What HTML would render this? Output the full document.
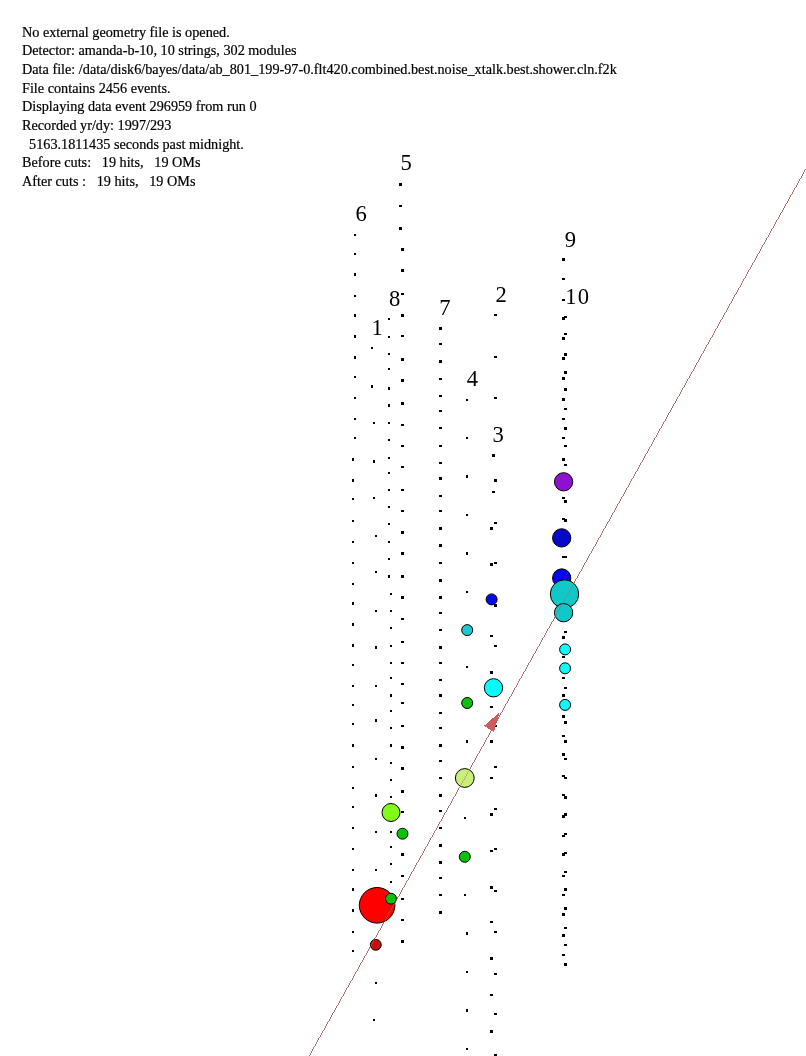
<!DOCTYPE html><html><head><meta charset="utf-8"><title>Event display</title><style>
html,body{margin:0;padding:0;background:#fff;}body{width:806px;height:1056px;overflow:hidden;position:relative;}
svg{position:absolute;left:0;top:0;display:block}
.txt{position:absolute;left:22.4px;top:23.6px;font-family:"Liberation Serif",serif;font-size:13.7px;color:#000;line-height:18.67px;-webkit-text-stroke:0.2px #000}.txt div{height:18.67px;white-space:pre;transform:scaleX(1.039);transform-origin:0 0}
.n{font-family:"Liberation Serif",serif;font-size:22.6px;fill:#000}
</style></head><body>
<svg width="806" height="1056" viewBox="0 0 806 1056">
<rect width="806" height="1056" fill="#fff"/>
<g class="n">
<text x="400.6" y="170.3">5</text>
<text x="355.5" y="221.0">6</text>
<text x="388.9" y="305.7">8</text>
<text x="371.5" y="334.5">1</text>
<text x="439.3" y="314.8">7</text>
<text x="564.7" y="246.5">9</text>
<text x="495.5" y="302.0">2</text>
<text x="565.3" y="303.8" letter-spacing="1.2">10</text>
<text x="466.7" y="385.6">4</text>
<text x="492.6" y="441.7">3</text>
</g>
<g fill="#000" shape-rendering="crispEdges">
<rect x="354.00" y="233.50" width="2" height="2.4"/>
<rect x="354.00" y="252.60" width="2" height="2.4"/>
<rect x="354.00" y="273.40" width="2" height="2.4"/>
<rect x="354.00" y="294.60" width="2" height="2.4"/>
<rect x="354.00" y="314.10" width="2" height="2.4"/>
<rect x="354.00" y="335.40" width="2" height="2.4"/>
<rect x="354.00" y="356.40" width="2" height="2.4"/>
<rect x="354.00" y="375.70" width="2" height="2.4"/>
<rect x="354.00" y="396.70" width="2" height="2.4"/>
<rect x="354.00" y="417.90" width="2" height="2.4"/>
<rect x="354.00" y="436.90" width="2" height="2.4"/>
<rect x="352.00" y="458.30" width="2" height="2.4"/>
<rect x="352.00" y="479.10" width="2" height="2.4"/>
<rect x="352.00" y="498.00" width="2" height="2.4"/>
<rect x="352.00" y="519.60" width="2" height="2.4"/>
<rect x="352.00" y="540.50" width="2" height="2.4"/>
<rect x="352.00" y="561.70" width="2" height="2.4"/>
<rect x="352.00" y="582.90" width="2" height="2.4"/>
<rect x="352.00" y="602.40" width="2" height="2.4"/>
<rect x="352.00" y="623.20" width="2" height="2.4"/>
<rect x="352.00" y="644.40" width="2" height="2.4"/>
<rect x="352.00" y="663.80" width="2" height="2.4"/>
<rect x="352.00" y="684.80" width="2" height="2.4"/>
<rect x="352.00" y="703.80" width="2" height="2.4"/>
<rect x="352.00" y="723.00" width="2" height="2.4"/>
<rect x="352.00" y="744.30" width="2" height="2.4"/>
<rect x="352.00" y="765.50" width="2" height="2.4"/>
<rect x="352.00" y="786.70" width="2" height="2.4"/>
<rect x="352.00" y="805.60" width="2" height="2.4"/>
<rect x="352.00" y="826.80" width="2" height="2.4"/>
<rect x="352.00" y="847.70" width="2" height="2.4"/>
<rect x="352.00" y="868.70" width="2" height="2.4"/>
<rect x="352.00" y="888.40" width="2" height="2.4"/>
<rect x="352.00" y="909.40" width="2" height="2.4"/>
<rect x="352.00" y="930.60" width="2" height="2.4"/>
<rect x="352.00" y="949.60" width="2" height="2.4"/>
<rect x="399.00" y="183.45" width="3" height="2.5"/>
<rect x="399.00" y="204.65" width="3" height="2.5"/>
<rect x="399.00" y="227.35" width="3" height="2.5"/>
<rect x="401.00" y="248.15" width="3" height="2.5"/>
<rect x="401.00" y="269.35" width="3" height="2.5"/>
<rect x="401.00" y="292.65" width="3" height="2.5"/>
<rect x="401.00" y="314.05" width="3" height="2.5"/>
<rect x="401.00" y="334.95" width="3" height="2.5"/>
<rect x="401.00" y="358.25" width="3" height="2.5"/>
<rect x="401.00" y="379.05" width="3" height="2.5"/>
<rect x="401.00" y="402.35" width="3" height="2.5"/>
<rect x="401.00" y="423.55" width="3" height="2.5"/>
<rect x="401.00" y="444.75" width="3" height="2.5"/>
<rect x="401.00" y="465.75" width="3" height="2.5"/>
<rect x="401.00" y="488.95" width="3" height="2.5"/>
<rect x="401.00" y="509.75" width="3" height="2.5"/>
<rect x="401.00" y="531.15" width="3" height="2.5"/>
<rect x="401.00" y="552.15" width="3" height="2.5"/>
<rect x="401.00" y="575.25" width="3" height="2.5"/>
<rect x="401.00" y="596.05" width="3" height="2.5"/>
<rect x="401.00" y="617.85" width="3" height="2.5"/>
<rect x="401.00" y="640.65" width="3" height="2.5"/>
<rect x="401.00" y="661.75" width="3" height="2.5"/>
<rect x="401.00" y="682.85" width="3" height="2.5"/>
<rect x="401.00" y="701.75" width="3" height="2.5"/>
<rect x="401.00" y="724.85" width="3" height="2.5"/>
<rect x="401.00" y="746.05" width="3" height="2.5"/>
<rect x="401.00" y="767.35" width="3" height="2.5"/>
<rect x="401.00" y="790.05" width="3" height="2.5"/>
<rect x="401.00" y="810.85" width="3" height="2.5"/>
<rect x="401.00" y="832.45" width="3" height="2.5"/>
<rect x="401.00" y="853.45" width="3" height="2.5"/>
<rect x="401.00" y="874.65" width="3" height="2.5"/>
<rect x="401.00" y="897.75" width="3" height="2.5"/>
<rect x="401.00" y="918.75" width="3" height="2.5"/>
<rect x="401.00" y="940.45" width="3" height="2.5"/>
<rect x="388.00" y="317.50" width="2" height="2.2"/>
<rect x="388.00" y="335.50" width="2" height="2.2"/>
<rect x="388.00" y="352.70" width="2" height="2.2"/>
<rect x="388.00" y="367.80" width="2" height="2.2"/>
<rect x="388.00" y="387.30" width="2" height="2.2"/>
<rect x="388.00" y="404.40" width="2" height="2.2"/>
<rect x="388.00" y="421.80" width="2" height="2.2"/>
<rect x="388.00" y="438.90" width="2" height="2.2"/>
<rect x="388.00" y="456.50" width="2" height="2.2"/>
<rect x="388.00" y="471.60" width="2" height="2.2"/>
<rect x="388.00" y="489.10" width="2" height="2.2"/>
<rect x="388.00" y="506.10" width="2" height="2.2"/>
<rect x="388.00" y="523.10" width="2" height="2.2"/>
<rect x="388.00" y="540.60" width="2" height="2.2"/>
<rect x="388.00" y="557.80" width="2" height="2.2"/>
<rect x="388.00" y="575.40" width="2" height="2.2"/>
<rect x="390.00" y="592.80" width="2" height="2.2"/>
<rect x="390.00" y="609.90" width="2" height="2.2"/>
<rect x="390.00" y="627.10" width="2" height="2.2"/>
<rect x="390.00" y="644.50" width="2" height="2.2"/>
<rect x="390.00" y="661.90" width="2" height="2.2"/>
<rect x="390.00" y="677.10" width="2" height="2.2"/>
<rect x="390.00" y="694.40" width="2" height="2.2"/>
<rect x="390.00" y="709.90" width="2" height="2.2"/>
<rect x="390.00" y="726.90" width="2" height="2.2"/>
<rect x="390.00" y="744.40" width="2" height="2.2"/>
<rect x="390.00" y="761.80" width="2" height="2.2"/>
<rect x="390.00" y="778.80" width="2" height="2.2"/>
<rect x="390.00" y="796.20" width="2" height="2.2"/>
<rect x="390.00" y="810.90" width="2" height="2.2"/>
<rect x="390.00" y="830.70" width="2" height="2.2"/>
<rect x="390.00" y="845.90" width="2" height="2.2"/>
<rect x="390.00" y="863.10" width="2" height="2.2"/>
<rect x="390.00" y="880.50" width="2" height="2.2"/>
<rect x="390.00" y="897.60" width="2" height="2.2"/>
<rect x="371.00" y="346.85" width="2" height="2.3"/>
<rect x="371.00" y="385.25" width="2" height="2.3"/>
<rect x="373.00" y="421.75" width="2" height="2.3"/>
<rect x="373.00" y="460.25" width="2" height="2.3"/>
<rect x="373.00" y="496.55" width="2" height="2.3"/>
<rect x="374.80" y="534.85" width="2" height="2.3"/>
<rect x="374.80" y="571.15" width="2" height="2.3"/>
<rect x="374.80" y="609.85" width="2" height="2.3"/>
<rect x="374.80" y="646.35" width="2" height="2.3"/>
<rect x="374.80" y="684.85" width="2" height="2.3"/>
<rect x="374.80" y="719.35" width="2" height="2.3"/>
<rect x="374.80" y="757.75" width="2" height="2.3"/>
<rect x="374.80" y="794.35" width="2" height="2.3"/>
<rect x="374.80" y="830.65" width="2" height="2.3"/>
<rect x="374.80" y="868.75" width="2" height="2.3"/>
<rect x="374.90" y="982.05" width="2" height="2.3"/>
<rect x="372.70" y="1018.85" width="2" height="2.3"/>
<rect x="439.00" y="327.35" width="3" height="2.5"/>
<rect x="439.00" y="342.55" width="3" height="2.5"/>
<rect x="439.00" y="360.15" width="3" height="2.5"/>
<rect x="439.00" y="377.55" width="3" height="2.5"/>
<rect x="439.00" y="394.55" width="3" height="2.5"/>
<rect x="439.00" y="409.95" width="3" height="2.5"/>
<rect x="439.00" y="426.95" width="3" height="2.5"/>
<rect x="439.00" y="444.75" width="3" height="2.5"/>
<rect x="439.00" y="461.75" width="3" height="2.5"/>
<rect x="439.00" y="477.15" width="3" height="2.5"/>
<rect x="439.00" y="494.55" width="3" height="2.5"/>
<rect x="439.00" y="509.75" width="3" height="2.5"/>
<rect x="439.00" y="527.15" width="3" height="2.5"/>
<rect x="439.00" y="544.35" width="3" height="2.5"/>
<rect x="439.00" y="561.65" width="3" height="2.5"/>
<rect x="439.00" y="579.05" width="3" height="2.5"/>
<rect x="439.00" y="596.05" width="3" height="2.5"/>
<rect x="439.00" y="611.65" width="3" height="2.5"/>
<rect x="439.00" y="628.85" width="3" height="2.5"/>
<rect x="439.00" y="646.25" width="3" height="2.5"/>
<rect x="439.00" y="661.75" width="3" height="2.5"/>
<rect x="439.00" y="678.85" width="3" height="2.5"/>
<rect x="439.00" y="694.25" width="3" height="2.5"/>
<rect x="439.00" y="711.65" width="3" height="2.5"/>
<rect x="439.00" y="726.75" width="3" height="2.5"/>
<rect x="439.00" y="744.25" width="3" height="2.5"/>
<rect x="439.00" y="759.75" width="3" height="2.5"/>
<rect x="439.00" y="776.75" width="3" height="2.5"/>
<rect x="439.00" y="794.25" width="3" height="2.5"/>
<rect x="439.00" y="809.75" width="3" height="2.5"/>
<rect x="439.00" y="826.75" width="3" height="2.5"/>
<rect x="439.00" y="844.05" width="3" height="2.5"/>
<rect x="439.00" y="861.05" width="3" height="2.5"/>
<rect x="439.00" y="876.55" width="3" height="2.5"/>
<rect x="439.00" y="893.65" width="3" height="2.5"/>
<rect x="439.00" y="911.25" width="3" height="2.5"/>
<rect x="466.20" y="398.60" width="2" height="2.4"/>
<rect x="466.20" y="436.80" width="2" height="2.4"/>
<rect x="466.20" y="475.30" width="2" height="2.4"/>
<rect x="466.20" y="513.60" width="2" height="2.4"/>
<rect x="466.20" y="552.20" width="2" height="2.4"/>
<rect x="466.20" y="590.80" width="2" height="2.4"/>
<rect x="466.20" y="628.90" width="2" height="2.4"/>
<rect x="466.20" y="665.80" width="2" height="2.4"/>
<rect x="466.20" y="701.80" width="2" height="2.4"/>
<rect x="466.20" y="740.10" width="2" height="2.4"/>
<rect x="463.80" y="776.80" width="2" height="2.4"/>
<rect x="463.80" y="817.00" width="2" height="2.4"/>
<rect x="463.80" y="855.40" width="2" height="2.4"/>
<rect x="463.80" y="893.70" width="2" height="2.4"/>
<rect x="466.20" y="932.10" width="2" height="2.4"/>
<rect x="466.20" y="970.80" width="2" height="2.4"/>
<rect x="466.20" y="1009.30" width="2" height="2.4"/>
<rect x="466.20" y="1047.80" width="2" height="2.4"/>
<rect x="494.00" y="313.90" width="3" height="2.2"/>
<rect x="494.00" y="356.10" width="3" height="2.2"/>
<rect x="494.00" y="396.90" width="3" height="2.2"/>
<rect x="494.00" y="479.40" width="3" height="2.2"/>
<rect x="494.00" y="522.00" width="3" height="2.2"/>
<rect x="494.00" y="561.70" width="3" height="2.2"/>
<rect x="494.00" y="604.40" width="3" height="2.2"/>
<rect x="494.00" y="644.50" width="3" height="2.2"/>
<rect x="494.00" y="686.70" width="3" height="2.2"/>
<rect x="494.00" y="725.20" width="3" height="2.2"/>
<rect x="494.00" y="765.50" width="3" height="2.2"/>
<rect x="494.00" y="807.80" width="3" height="2.2"/>
<rect x="494.00" y="847.50" width="3" height="2.2"/>
<rect x="494.00" y="890.20" width="3" height="2.2"/>
<rect x="494.00" y="930.90" width="3" height="2.2"/>
<rect x="494.00" y="972.70" width="3" height="2.2"/>
<rect x="494.00" y="1012.80" width="3" height="2.2"/>
<rect x="494.00" y="1054.10" width="3" height="2.2"/>
<rect x="492.00" y="454.20" width="3" height="2.6"/>
<rect x="492.00" y="490.60" width="3" height="2.6"/>
<rect x="490.00" y="527.10" width="3" height="2.6"/>
<rect x="490.00" y="563.40" width="3" height="2.6"/>
<rect x="490.00" y="598.10" width="3" height="2.6"/>
<rect x="490.00" y="634.50" width="3" height="2.6"/>
<rect x="490.00" y="671.40" width="3" height="2.6"/>
<rect x="490.00" y="705.50" width="3" height="2.6"/>
<rect x="490.00" y="740.10" width="3" height="2.6"/>
<rect x="490.00" y="776.70" width="3" height="2.6"/>
<rect x="490.00" y="813.20" width="3" height="2.6"/>
<rect x="490.00" y="849.60" width="3" height="2.6"/>
<rect x="490.00" y="886.00" width="3" height="2.6"/>
<rect x="490.00" y="920.60" width="3" height="2.6"/>
<rect x="490.00" y="957.20" width="3" height="2.6"/>
<rect x="490.00" y="993.50" width="3" height="2.6"/>
<rect x="490.00" y="1030.20" width="3" height="2.6"/>
<rect x="562.00" y="258.15" width="3" height="2.5"/>
<rect x="562.00" y="277.55" width="3" height="2.5"/>
<rect x="562.00" y="298.55" width="3" height="2.5"/>
<rect x="562.00" y="317.15" width="3" height="2.5"/>
<rect x="562.00" y="337.05" width="3" height="2.5"/>
<rect x="562.00" y="357.45" width="3" height="2.5"/>
<rect x="562.00" y="377.15" width="3" height="2.5"/>
<rect x="562.00" y="398.05" width="3" height="2.5"/>
<rect x="562.00" y="417.65" width="3" height="2.5"/>
<rect x="562.00" y="436.65" width="3" height="2.5"/>
<rect x="562.00" y="458.45" width="3" height="2.5"/>
<rect x="562.00" y="480.55" width="3" height="2.5"/>
<rect x="562.00" y="496.65" width="3" height="2.5"/>
<rect x="562.00" y="517.55" width="3" height="2.5"/>
<rect x="562.00" y="536.65" width="3" height="2.5"/>
<rect x="562.00" y="555.95" width="3" height="2.5"/>
<rect x="562.00" y="576.75" width="3" height="2.5"/>
<rect x="562.00" y="595.75" width="3" height="2.5"/>
<rect x="562.00" y="615.55" width="3" height="2.5"/>
<rect x="562.00" y="636.45" width="3" height="2.5"/>
<rect x="562.00" y="655.75" width="3" height="2.5"/>
<rect x="562.00" y="676.55" width="3" height="2.5"/>
<rect x="562.00" y="694.15" width="3" height="2.5"/>
<rect x="562.00" y="715.05" width="3" height="2.5"/>
<rect x="562.00" y="734.85" width="3" height="2.5"/>
<rect x="562.00" y="753.45" width="3" height="2.5"/>
<rect x="562.00" y="774.85" width="3" height="2.5"/>
<rect x="562.00" y="793.75" width="3" height="2.5"/>
<rect x="562.00" y="815.15" width="3" height="2.5"/>
<rect x="562.00" y="834.85" width="3" height="2.5"/>
<rect x="562.00" y="853.45" width="3" height="2.5"/>
<rect x="562.00" y="874.65" width="3" height="2.5"/>
<rect x="562.00" y="893.75" width="3" height="2.5"/>
<rect x="562.00" y="913.15" width="3" height="2.5"/>
<rect x="562.00" y="934.25" width="3" height="2.5"/>
<rect x="562.00" y="953.65" width="3" height="2.5"/>
<rect x="564.00" y="315.75" width="3" height="2.5"/>
<rect x="564.00" y="332.85" width="3" height="2.5"/>
<rect x="564.00" y="353.15" width="3" height="2.5"/>
<rect x="564.00" y="371.45" width="3" height="2.5"/>
<rect x="564.00" y="388.15" width="3" height="2.5"/>
<rect x="564.00" y="407.85" width="3" height="2.5"/>
<rect x="564.00" y="427.15" width="3" height="2.5"/>
<rect x="564.00" y="444.55" width="3" height="2.5"/>
<rect x="564.00" y="463.75" width="3" height="2.5"/>
<rect x="564.00" y="481.85" width="3" height="2.5"/>
<rect x="564.00" y="500.05" width="3" height="2.5"/>
<rect x="564.00" y="519.15" width="3" height="2.5"/>
<rect x="564.00" y="537.15" width="3" height="2.5"/>
<rect x="564.00" y="555.95" width="3" height="2.5"/>
<rect x="564.00" y="574.05" width="3" height="2.5"/>
<rect x="564.00" y="592.55" width="3" height="2.5"/>
<rect x="564.00" y="610.95" width="3" height="2.5"/>
<rect x="564.00" y="630.75" width="3" height="2.5"/>
<rect x="564.00" y="648.15" width="3" height="2.5"/>
<rect x="564.00" y="667.05" width="3" height="2.5"/>
<rect x="564.00" y="686.55" width="3" height="2.5"/>
<rect x="564.00" y="703.65" width="3" height="2.5"/>
<rect x="564.00" y="721.25" width="3" height="2.5"/>
<rect x="564.00" y="740.15" width="3" height="2.5"/>
<rect x="564.00" y="757.65" width="3" height="2.5"/>
<rect x="564.00" y="776.75" width="3" height="2.5"/>
<rect x="564.00" y="796.05" width="3" height="2.5"/>
<rect x="564.00" y="813.25" width="3" height="2.5"/>
<rect x="564.00" y="832.95" width="3" height="2.5"/>
<rect x="564.00" y="851.55" width="3" height="2.5"/>
<rect x="564.00" y="870.85" width="3" height="2.5"/>
<rect x="564.00" y="888.15" width="3" height="2.5"/>
<rect x="564.00" y="907.15" width="3" height="2.5"/>
<rect x="564.00" y="926.55" width="3" height="2.5"/>
<rect x="564.00" y="943.65" width="3" height="2.5"/>
<rect x="564.00" y="963.25" width="3" height="2.5"/>
<rect x="401.00" y="293.25" width="3" height="1.5"/>
</g>
<path d="M805 169h1v1h-1zM804 170h1v2h-1zM803 172h1v2h-1zM802 174h1v2h-1zM801 176h1v2h-1zM800 178h1v1h-1zM799 179h1v2h-1zM798 181h1v2h-1zM797 183h1v2h-1zM796 185h1v2h-1zM795 187h1v1h-1zM794 188h1v2h-1zM793 190h1v2h-1zM792 192h1v2h-1zM791 194h1v1h-1zM790 195h1v2h-1zM789 197h1v2h-1zM788 199h1v2h-1zM787 201h1v2h-1zM786 203h1v1h-1zM785 204h1v2h-1zM784 206h1v2h-1zM783 208h1v2h-1zM782 210h1v2h-1zM781 212h1v1h-1zM780 213h1v2h-1zM779 215h1v2h-1zM778 217h1v2h-1zM777 219h1v1h-1zM776 220h1v2h-1zM775 222h1v2h-1zM774 224h1v2h-1zM773 226h1v2h-1zM772 228h1v1h-1zM771 229h1v2h-1zM770 231h1v2h-1zM769 233h1v2h-1zM768 235h1v2h-1zM767 237h1v1h-1zM766 238h1v2h-1zM765 240h1v2h-1zM764 242h1v2h-1zM763 244h1v1h-1zM762 245h1v2h-1zM761 247h1v2h-1zM760 249h1v2h-1zM759 251h1v2h-1zM758 253h1v1h-1zM757 254h1v2h-1zM756 256h1v2h-1zM755 258h1v2h-1zM754 260h1v2h-1zM753 262h1v1h-1zM752 263h1v2h-1zM751 265h1v2h-1zM750 267h1v2h-1zM749 269h1v1h-1zM748 270h1v2h-1zM747 272h1v2h-1zM746 274h1v2h-1zM745 276h1v2h-1zM744 278h1v1h-1zM743 279h1v2h-1zM742 281h1v2h-1zM741 283h1v2h-1zM740 285h1v2h-1zM739 287h1v1h-1zM738 288h1v2h-1zM737 290h1v2h-1zM736 292h1v2h-1zM735 294h1v1h-1zM734 295h1v2h-1zM733 297h1v2h-1zM732 299h1v2h-1zM731 301h1v2h-1zM730 303h1v1h-1zM729 304h1v2h-1zM728 306h1v2h-1zM727 308h1v2h-1zM726 310h1v2h-1zM725 312h1v1h-1zM724 313h1v2h-1zM723 315h1v2h-1zM722 317h1v2h-1zM721 319h1v1h-1zM720 320h1v2h-1zM719 322h1v2h-1zM718 324h1v2h-1zM717 326h1v2h-1zM716 328h1v1h-1zM715 329h1v2h-1zM714 331h1v2h-1zM713 333h1v2h-1zM712 335h1v2h-1zM711 337h1v1h-1zM710 338h1v2h-1zM709 340h1v2h-1zM708 342h1v2h-1zM707 344h1v1h-1zM706 345h1v2h-1zM705 347h1v2h-1zM704 349h1v2h-1zM703 351h1v2h-1zM702 353h1v1h-1zM701 354h1v2h-1zM700 356h1v2h-1zM699 358h1v2h-1zM698 360h1v2h-1zM697 362h1v1h-1zM696 363h1v2h-1zM695 365h1v2h-1zM694 367h1v2h-1zM693 369h1v2h-1zM692 371h1v1h-1zM691 372h1v2h-1zM690 374h1v2h-1zM689 376h1v2h-1zM688 378h1v1h-1zM687 379h1v2h-1zM686 381h1v2h-1zM685 383h1v2h-1zM684 385h1v2h-1zM683 387h1v1h-1zM682 388h1v2h-1zM681 390h1v2h-1zM680 392h1v2h-1zM679 394h1v2h-1zM678 396h1v1h-1zM677 397h1v2h-1zM676 399h1v2h-1zM675 401h1v2h-1zM674 403h1v1h-1zM673 404h1v2h-1zM672 406h1v2h-1zM671 408h1v2h-1zM670 410h1v2h-1zM669 412h1v1h-1zM668 413h1v2h-1zM667 415h1v2h-1zM666 417h1v2h-1zM665 419h1v2h-1zM664 421h1v1h-1zM663 422h1v2h-1zM662 424h1v2h-1zM661 426h1v2h-1zM660 428h1v1h-1zM659 429h1v2h-1zM658 431h1v2h-1zM657 433h1v2h-1zM656 435h1v2h-1zM655 437h1v1h-1zM654 438h1v2h-1zM653 440h1v2h-1zM652 442h1v2h-1zM651 444h1v2h-1zM650 446h1v1h-1zM649 447h1v2h-1zM648 449h1v2h-1zM647 451h1v2h-1zM646 453h1v1h-1zM645 454h1v2h-1zM644 456h1v2h-1zM643 458h1v2h-1zM642 460h1v2h-1zM641 462h1v1h-1zM640 463h1v2h-1zM639 465h1v2h-1zM638 467h1v2h-1zM637 469h1v2h-1zM636 471h1v1h-1zM635 472h1v2h-1zM634 474h1v2h-1zM633 476h1v2h-1zM632 478h1v1h-1zM631 479h1v2h-1zM630 481h1v2h-1zM629 483h1v2h-1zM628 485h1v2h-1zM627 487h1v1h-1zM626 488h1v2h-1zM625 490h1v2h-1zM624 492h1v2h-1zM623 494h1v2h-1zM622 496h1v1h-1zM621 497h1v2h-1zM620 499h1v2h-1zM619 501h1v2h-1zM618 503h1v1h-1zM617 504h1v2h-1zM616 506h1v2h-1zM615 508h1v2h-1zM614 510h1v2h-1zM613 512h1v1h-1zM612 513h1v2h-1zM611 515h1v2h-1zM610 517h1v2h-1zM609 519h1v2h-1zM608 521h1v1h-1zM607 522h1v2h-1zM606 524h1v2h-1zM605 526h1v2h-1zM604 528h1v1h-1zM603 529h1v2h-1zM602 531h1v2h-1zM601 533h1v2h-1zM600 535h1v2h-1zM599 537h1v1h-1zM598 538h1v2h-1zM597 540h1v2h-1zM596 542h1v2h-1zM595 544h1v2h-1zM594 546h1v1h-1zM593 547h1v2h-1zM592 549h1v2h-1zM591 551h1v2h-1zM590 553h1v1h-1zM589 554h1v2h-1zM588 556h1v2h-1zM587 558h1v2h-1zM586 560h1v2h-1zM585 562h1v1h-1zM584 563h1v2h-1zM583 565h1v2h-1zM582 567h1v2h-1zM581 569h1v2h-1zM580 571h1v1h-1zM579 572h1v2h-1zM578 574h1v2h-1zM577 576h1v2h-1zM576 578h1v1h-1zM575 579h1v2h-1zM574 581h1v2h-1zM573 583h1v2h-1zM572 585h1v2h-1zM571 587h1v1h-1zM570 588h1v2h-1zM569 590h1v2h-1zM568 592h1v2h-1zM567 594h1v2h-1zM566 596h1v1h-1zM565 597h1v2h-1zM564 599h1v2h-1zM563 601h1v2h-1zM562 603h1v1h-1zM561 604h1v2h-1zM560 606h1v2h-1zM559 608h1v2h-1zM558 610h1v2h-1zM557 612h1v1h-1zM556 613h1v2h-1zM555 615h1v2h-1zM554 617h1v2h-1zM553 619h1v2h-1zM552 621h1v1h-1zM551 622h1v2h-1zM550 624h1v2h-1zM549 626h1v2h-1zM548 628h1v1h-1zM547 629h1v2h-1zM546 631h1v2h-1zM545 633h1v2h-1zM544 635h1v2h-1zM543 637h1v1h-1zM542 638h1v2h-1zM541 640h1v2h-1zM540 642h1v2h-1zM539 644h1v2h-1zM538 646h1v1h-1zM537 647h1v2h-1zM536 649h1v2h-1zM535 651h1v2h-1zM534 653h1v1h-1zM533 654h1v2h-1zM532 656h1v2h-1zM531 658h1v2h-1zM530 660h1v2h-1zM529 662h1v1h-1zM528 663h1v2h-1zM527 665h1v2h-1zM526 667h1v2h-1zM525 669h1v2h-1zM524 671h1v1h-1zM523 672h1v2h-1zM522 674h1v2h-1zM521 676h1v2h-1zM520 678h1v1h-1zM519 679h1v2h-1zM518 681h1v2h-1zM517 683h1v2h-1zM516 685h1v2h-1zM515 687h1v1h-1zM514 688h1v2h-1zM513 690h1v2h-1zM512 692h1v2h-1zM511 694h1v2h-1zM510 696h1v1h-1zM509 697h1v2h-1zM508 699h1v2h-1zM507 701h1v2h-1zM506 703h1v1h-1zM505 704h1v2h-1zM504 706h1v2h-1zM503 708h1v2h-1zM502 710h1v2h-1zM501 712h1v1h-1zM500 713h1v2h-1zM499 715h1v2h-1zM498 717h1v2h-1zM497 719h1v2h-1zM496 721h1v1h-1zM495 722h1v2h-1zM494 724h1v2h-1zM493 726h1v2h-1zM492 728h1v1h-1zM491 729h1v2h-1zM490 731h1v2h-1zM489 733h1v2h-1zM488 735h1v2h-1zM487 737h1v1h-1zM486 738h1v2h-1zM485 740h1v2h-1zM484 742h1v2h-1zM483 744h1v2h-1zM482 746h1v1h-1zM481 747h1v2h-1zM480 749h1v2h-1zM479 751h1v2h-1zM478 753h1v1h-1zM477 754h1v2h-1zM476 756h1v2h-1zM475 758h1v2h-1zM474 760h1v2h-1zM473 762h1v1h-1zM472 763h1v2h-1zM471 765h1v2h-1zM470 767h1v2h-1zM469 769h1v2h-1zM468 771h1v1h-1zM467 772h1v2h-1zM466 774h1v2h-1zM465 776h1v2h-1zM464 778h1v2h-1zM463 780h1v1h-1zM462 781h1v2h-1zM461 783h1v2h-1zM460 785h1v2h-1zM459 787h1v1h-1zM458 788h1v2h-1zM457 790h1v2h-1zM456 792h1v2h-1zM455 794h1v2h-1zM454 796h1v1h-1zM453 797h1v2h-1zM452 799h1v2h-1zM451 801h1v2h-1zM450 803h1v2h-1zM449 805h1v1h-1zM448 806h1v2h-1zM447 808h1v2h-1zM446 810h1v2h-1zM445 812h1v1h-1zM444 813h1v2h-1zM443 815h1v2h-1zM442 817h1v2h-1zM441 819h1v2h-1zM440 821h1v1h-1zM439 822h1v2h-1zM438 824h1v2h-1zM437 826h1v2h-1zM436 828h1v2h-1zM435 830h1v1h-1zM434 831h1v2h-1zM433 833h1v2h-1zM432 835h1v2h-1zM431 837h1v1h-1zM430 838h1v2h-1zM429 840h1v2h-1zM428 842h1v2h-1zM427 844h1v2h-1zM426 846h1v1h-1zM425 847h1v2h-1zM424 849h1v2h-1zM423 851h1v2h-1zM422 853h1v2h-1zM421 855h1v1h-1zM420 856h1v2h-1zM419 858h1v2h-1zM418 860h1v2h-1zM417 862h1v1h-1zM416 863h1v2h-1zM415 865h1v2h-1zM414 867h1v2h-1zM413 869h1v2h-1zM412 871h1v1h-1zM411 872h1v2h-1zM410 874h1v2h-1zM409 876h1v2h-1zM408 878h1v2h-1zM407 880h1v1h-1zM406 881h1v2h-1zM405 883h1v2h-1zM404 885h1v2h-1zM403 887h1v1h-1zM402 888h1v2h-1zM401 890h1v2h-1zM400 892h1v2h-1zM399 894h1v2h-1zM398 896h1v1h-1zM397 897h1v2h-1zM396 899h1v2h-1zM395 901h1v2h-1zM394 903h1v2h-1zM393 905h1v1h-1zM392 906h1v2h-1zM391 908h1v2h-1zM390 910h1v2h-1zM389 912h1v1h-1zM388 913h1v2h-1zM387 915h1v2h-1zM386 917h1v2h-1zM385 919h1v2h-1zM384 921h1v1h-1zM383 922h1v2h-1zM382 924h1v2h-1zM381 926h1v2h-1zM380 928h1v2h-1zM379 930h1v1h-1zM378 931h1v2h-1zM377 933h1v2h-1zM376 935h1v2h-1zM375 937h1v1h-1zM374 938h1v2h-1zM373 940h1v2h-1zM372 942h1v2h-1zM371 944h1v2h-1zM370 946h1v1h-1zM369 947h1v2h-1zM368 949h1v2h-1zM367 951h1v2h-1zM366 953h1v2h-1zM365 955h1v1h-1zM364 956h1v2h-1zM363 958h1v2h-1zM362 960h1v2h-1zM361 962h1v1h-1zM360 963h1v2h-1zM359 965h1v2h-1zM358 967h1v2h-1zM357 969h1v2h-1zM356 971h1v1h-1zM355 972h1v2h-1zM354 974h1v2h-1zM353 976h1v2h-1zM352 978h1v2h-1zM351 980h1v1h-1zM350 981h1v2h-1zM349 983h1v2h-1zM348 985h1v2h-1zM347 987h1v1h-1zM346 988h1v2h-1zM345 990h1v2h-1zM344 992h1v2h-1zM343 994h1v2h-1zM342 996h1v1h-1zM341 997h1v2h-1zM340 999h1v2h-1zM339 1001h1v2h-1zM338 1003h1v2h-1zM337 1005h1v1h-1zM336 1006h1v2h-1zM335 1008h1v2h-1zM334 1010h1v2h-1zM333 1012h1v1h-1zM332 1013h1v2h-1zM331 1015h1v2h-1zM330 1017h1v2h-1zM329 1019h1v2h-1zM328 1021h1v1h-1zM327 1022h1v2h-1zM326 1024h1v2h-1zM325 1026h1v2h-1zM324 1028h1v2h-1zM323 1030h1v1h-1zM322 1031h1v2h-1zM321 1033h1v2h-1zM320 1035h1v2h-1zM319 1037h1v1h-1zM318 1038h1v2h-1zM317 1040h1v2h-1zM316 1042h1v2h-1zM315 1044h1v2h-1zM314 1046h1v1h-1zM313 1047h1v2h-1zM312 1049h1v2h-1zM311 1051h1v2h-1zM310 1053h1v2h-1zM309 1055h1v1h-1z" fill="#a66e6e" shape-rendering="crispEdges"/>
<g stroke="#000" stroke-width="1">
<circle cx="563.6" cy="481.8" r="9.15" fill="#9010d0"/>
<circle cx="561.7" cy="537.9" r="9.15" fill="#0808c8"/>
<circle cx="561.7" cy="578" r="9.15" fill="#0404f4"/>
<circle cx="564.5" cy="594.0" r="14.2" fill="#10c8c8"/>
<circle cx="563.6" cy="612.7" r="9.15" fill="#10c8c8"/>
<circle cx="565.1" cy="649.4" r="5.5" fill="#10f8f8"/>
<circle cx="565.1" cy="668.3" r="5.5" fill="#10f8f8"/>
<circle cx="565.1" cy="704.9" r="5.5" fill="#10f8f8"/>
<circle cx="491.6" cy="599.4" r="5.5" fill="#0606f2"/>
<circle cx="493.5" cy="687.8" r="9.15" fill="#04fcfc"/>
<circle cx="467.2" cy="630.1" r="5.5" fill="#1fc8d0"/>
<circle cx="467.2" cy="703" r="5.5" fill="#0cc00c"/>
<circle cx="464.8" cy="778" r="9.4" fill="#c8f078"/>
<circle cx="464.8" cy="856.8" r="5.5" fill="#0cc00c"/>
<circle cx="391" cy="812.5" r="9.0" fill="#80fc18"/>
<circle cx="402.5" cy="833.7" r="5.45" fill="#0cc00c"/>
<circle cx="377.1" cy="905.3" r="17.8" fill="#ff0000"/>
<circle cx="391" cy="898.7" r="5.45" fill="#0cc00c"/>
<circle cx="375.8" cy="944.8" r="5.45" fill="#c80f0f"/>
</g>
<path d="M805 169h1v1h-1zM804 170h1v2h-1zM803 172h1v2h-1zM802 174h1v2h-1zM801 176h1v2h-1zM800 178h1v1h-1zM799 179h1v2h-1zM798 181h1v2h-1zM797 183h1v2h-1zM796 185h1v2h-1zM795 187h1v1h-1zM794 188h1v2h-1zM793 190h1v2h-1zM792 192h1v2h-1zM791 194h1v1h-1zM790 195h1v2h-1zM789 197h1v2h-1zM788 199h1v2h-1zM787 201h1v2h-1zM786 203h1v1h-1zM785 204h1v2h-1zM784 206h1v2h-1zM783 208h1v2h-1zM782 210h1v2h-1zM781 212h1v1h-1zM780 213h1v2h-1zM779 215h1v2h-1zM778 217h1v2h-1zM777 219h1v1h-1zM776 220h1v2h-1zM775 222h1v2h-1zM774 224h1v2h-1zM773 226h1v2h-1zM772 228h1v1h-1zM771 229h1v2h-1zM770 231h1v2h-1zM769 233h1v2h-1zM768 235h1v2h-1zM767 237h1v1h-1zM766 238h1v2h-1zM765 240h1v2h-1zM764 242h1v2h-1zM763 244h1v1h-1zM762 245h1v2h-1zM761 247h1v2h-1zM760 249h1v2h-1zM759 251h1v2h-1zM758 253h1v1h-1zM757 254h1v2h-1zM756 256h1v2h-1zM755 258h1v2h-1zM754 260h1v2h-1zM753 262h1v1h-1zM752 263h1v2h-1zM751 265h1v2h-1zM750 267h1v2h-1zM749 269h1v1h-1zM748 270h1v2h-1zM747 272h1v2h-1zM746 274h1v2h-1zM745 276h1v2h-1zM744 278h1v1h-1zM743 279h1v2h-1zM742 281h1v2h-1zM741 283h1v2h-1zM740 285h1v2h-1zM739 287h1v1h-1zM738 288h1v2h-1zM737 290h1v2h-1zM736 292h1v2h-1zM735 294h1v1h-1zM734 295h1v2h-1zM733 297h1v2h-1zM732 299h1v2h-1zM731 301h1v2h-1zM730 303h1v1h-1zM729 304h1v2h-1zM728 306h1v2h-1zM727 308h1v2h-1zM726 310h1v2h-1zM725 312h1v1h-1zM724 313h1v2h-1zM723 315h1v2h-1zM722 317h1v2h-1zM721 319h1v1h-1zM720 320h1v2h-1zM719 322h1v2h-1zM718 324h1v2h-1zM717 326h1v2h-1zM716 328h1v1h-1zM715 329h1v2h-1zM714 331h1v2h-1zM713 333h1v2h-1zM712 335h1v2h-1zM711 337h1v1h-1zM710 338h1v2h-1zM709 340h1v2h-1zM708 342h1v2h-1zM707 344h1v1h-1zM706 345h1v2h-1zM705 347h1v2h-1zM704 349h1v2h-1zM703 351h1v2h-1zM702 353h1v1h-1zM701 354h1v2h-1zM700 356h1v2h-1zM699 358h1v2h-1zM698 360h1v2h-1zM697 362h1v1h-1zM696 363h1v2h-1zM695 365h1v2h-1zM694 367h1v2h-1zM693 369h1v2h-1zM692 371h1v1h-1zM691 372h1v2h-1zM690 374h1v2h-1zM689 376h1v2h-1zM688 378h1v1h-1zM687 379h1v2h-1zM686 381h1v2h-1zM685 383h1v2h-1zM684 385h1v2h-1zM683 387h1v1h-1zM682 388h1v2h-1zM681 390h1v2h-1zM680 392h1v2h-1zM679 394h1v2h-1zM678 396h1v1h-1zM677 397h1v2h-1zM676 399h1v2h-1zM675 401h1v2h-1zM674 403h1v1h-1zM673 404h1v2h-1zM672 406h1v2h-1zM671 408h1v2h-1zM670 410h1v2h-1zM669 412h1v1h-1zM668 413h1v2h-1zM667 415h1v2h-1zM666 417h1v2h-1zM665 419h1v2h-1zM664 421h1v1h-1zM663 422h1v2h-1zM662 424h1v2h-1zM661 426h1v2h-1zM660 428h1v1h-1zM659 429h1v2h-1zM658 431h1v2h-1zM657 433h1v2h-1zM656 435h1v2h-1zM655 437h1v1h-1zM654 438h1v2h-1zM653 440h1v2h-1zM652 442h1v2h-1zM651 444h1v2h-1zM650 446h1v1h-1zM649 447h1v2h-1zM648 449h1v2h-1zM647 451h1v2h-1zM646 453h1v1h-1zM645 454h1v2h-1zM644 456h1v2h-1zM643 458h1v2h-1zM642 460h1v2h-1zM641 462h1v1h-1zM640 463h1v2h-1zM639 465h1v2h-1zM638 467h1v2h-1zM637 469h1v2h-1zM636 471h1v1h-1zM635 472h1v2h-1zM634 474h1v2h-1zM633 476h1v2h-1zM632 478h1v1h-1zM631 479h1v2h-1zM630 481h1v2h-1zM629 483h1v2h-1zM628 485h1v2h-1zM627 487h1v1h-1zM626 488h1v2h-1zM625 490h1v2h-1zM624 492h1v2h-1zM623 494h1v2h-1zM622 496h1v1h-1zM621 497h1v2h-1zM620 499h1v2h-1zM619 501h1v2h-1zM618 503h1v1h-1zM617 504h1v2h-1zM616 506h1v2h-1zM615 508h1v2h-1zM614 510h1v2h-1zM613 512h1v1h-1zM612 513h1v2h-1zM611 515h1v2h-1zM610 517h1v2h-1zM609 519h1v2h-1zM608 521h1v1h-1zM607 522h1v2h-1zM606 524h1v2h-1zM605 526h1v2h-1zM604 528h1v1h-1zM603 529h1v2h-1zM602 531h1v2h-1zM601 533h1v2h-1zM600 535h1v2h-1zM599 537h1v1h-1zM598 538h1v2h-1zM597 540h1v2h-1zM596 542h1v2h-1zM595 544h1v2h-1zM594 546h1v1h-1zM593 547h1v2h-1zM592 549h1v2h-1zM591 551h1v2h-1zM590 553h1v1h-1zM589 554h1v2h-1zM588 556h1v2h-1zM587 558h1v2h-1zM586 560h1v2h-1zM585 562h1v1h-1zM584 563h1v2h-1zM583 565h1v2h-1zM582 567h1v2h-1zM581 569h1v2h-1zM580 571h1v1h-1zM579 572h1v2h-1zM578 574h1v2h-1zM577 576h1v2h-1zM576 578h1v1h-1zM575 579h1v2h-1zM574 581h1v2h-1zM573 583h1v2h-1zM572 585h1v2h-1zM571 587h1v1h-1zM570 588h1v2h-1zM569 590h1v2h-1zM568 592h1v2h-1zM567 594h1v2h-1zM566 596h1v1h-1zM565 597h1v2h-1zM564 599h1v2h-1zM563 601h1v2h-1zM562 603h1v1h-1zM561 604h1v2h-1zM560 606h1v2h-1zM559 608h1v2h-1zM558 610h1v2h-1zM557 612h1v1h-1zM556 613h1v2h-1zM555 615h1v2h-1zM554 617h1v2h-1zM553 619h1v2h-1zM552 621h1v1h-1zM551 622h1v2h-1zM550 624h1v2h-1zM549 626h1v2h-1zM548 628h1v1h-1zM547 629h1v2h-1zM546 631h1v2h-1zM545 633h1v2h-1zM544 635h1v2h-1zM543 637h1v1h-1zM542 638h1v2h-1zM541 640h1v2h-1zM540 642h1v2h-1zM539 644h1v2h-1zM538 646h1v1h-1zM537 647h1v2h-1zM536 649h1v2h-1zM535 651h1v2h-1zM534 653h1v1h-1zM533 654h1v2h-1zM532 656h1v2h-1zM531 658h1v2h-1zM530 660h1v2h-1zM529 662h1v1h-1zM528 663h1v2h-1zM527 665h1v2h-1zM526 667h1v2h-1zM525 669h1v2h-1zM524 671h1v1h-1zM523 672h1v2h-1zM522 674h1v2h-1zM521 676h1v2h-1zM520 678h1v1h-1zM519 679h1v2h-1zM518 681h1v2h-1zM517 683h1v2h-1zM516 685h1v2h-1zM515 687h1v1h-1zM514 688h1v2h-1zM513 690h1v2h-1zM512 692h1v2h-1zM511 694h1v2h-1zM510 696h1v1h-1zM509 697h1v2h-1zM508 699h1v2h-1zM507 701h1v2h-1zM506 703h1v1h-1zM505 704h1v2h-1zM504 706h1v2h-1zM503 708h1v2h-1zM502 710h1v2h-1zM501 712h1v1h-1zM500 713h1v2h-1zM499 715h1v2h-1zM498 717h1v2h-1zM497 719h1v2h-1zM496 721h1v1h-1zM495 722h1v2h-1zM494 724h1v2h-1zM493 726h1v2h-1zM492 728h1v1h-1zM491 729h1v2h-1zM490 731h1v2h-1zM489 733h1v2h-1zM488 735h1v2h-1zM487 737h1v1h-1zM486 738h1v2h-1zM485 740h1v2h-1zM484 742h1v2h-1zM483 744h1v2h-1zM482 746h1v1h-1zM481 747h1v2h-1zM480 749h1v2h-1zM479 751h1v2h-1zM478 753h1v1h-1zM477 754h1v2h-1zM476 756h1v2h-1zM475 758h1v2h-1zM474 760h1v2h-1zM473 762h1v1h-1zM472 763h1v2h-1zM471 765h1v2h-1zM470 767h1v2h-1zM469 769h1v2h-1zM468 771h1v1h-1zM467 772h1v2h-1zM466 774h1v2h-1zM465 776h1v2h-1zM464 778h1v2h-1zM463 780h1v1h-1zM462 781h1v2h-1zM461 783h1v2h-1zM460 785h1v2h-1zM459 787h1v1h-1zM458 788h1v2h-1zM457 790h1v2h-1zM456 792h1v2h-1zM455 794h1v2h-1zM454 796h1v1h-1zM453 797h1v2h-1zM452 799h1v2h-1zM451 801h1v2h-1zM450 803h1v2h-1zM449 805h1v1h-1zM448 806h1v2h-1zM447 808h1v2h-1zM446 810h1v2h-1zM445 812h1v1h-1zM444 813h1v2h-1zM443 815h1v2h-1zM442 817h1v2h-1zM441 819h1v2h-1zM440 821h1v1h-1zM439 822h1v2h-1zM438 824h1v2h-1zM437 826h1v2h-1zM436 828h1v2h-1zM435 830h1v1h-1zM434 831h1v2h-1zM433 833h1v2h-1zM432 835h1v2h-1zM431 837h1v1h-1zM430 838h1v2h-1zM429 840h1v2h-1zM428 842h1v2h-1zM427 844h1v2h-1zM426 846h1v1h-1zM425 847h1v2h-1zM424 849h1v2h-1zM423 851h1v2h-1zM422 853h1v2h-1zM421 855h1v1h-1zM420 856h1v2h-1zM419 858h1v2h-1zM418 860h1v2h-1zM417 862h1v1h-1zM416 863h1v2h-1zM415 865h1v2h-1zM414 867h1v2h-1zM413 869h1v2h-1zM412 871h1v1h-1zM411 872h1v2h-1zM410 874h1v2h-1zM409 876h1v2h-1zM408 878h1v2h-1zM407 880h1v1h-1zM406 881h1v2h-1zM405 883h1v2h-1zM404 885h1v2h-1zM403 887h1v1h-1zM402 888h1v2h-1zM401 890h1v2h-1zM400 892h1v2h-1zM399 894h1v2h-1zM398 896h1v1h-1zM397 897h1v2h-1zM396 899h1v2h-1zM395 901h1v2h-1zM394 903h1v2h-1zM393 905h1v1h-1zM392 906h1v2h-1zM391 908h1v2h-1zM390 910h1v2h-1zM389 912h1v1h-1zM388 913h1v2h-1zM387 915h1v2h-1zM386 917h1v2h-1zM385 919h1v2h-1zM384 921h1v1h-1zM383 922h1v2h-1zM382 924h1v2h-1zM381 926h1v2h-1zM380 928h1v2h-1zM379 930h1v1h-1zM378 931h1v2h-1zM377 933h1v2h-1zM376 935h1v2h-1zM375 937h1v1h-1zM374 938h1v2h-1zM373 940h1v2h-1zM372 942h1v2h-1zM371 944h1v2h-1zM370 946h1v1h-1zM369 947h1v2h-1zM368 949h1v2h-1zM367 951h1v2h-1zM366 953h1v2h-1zM365 955h1v1h-1zM364 956h1v2h-1zM363 958h1v2h-1zM362 960h1v2h-1zM361 962h1v1h-1zM360 963h1v2h-1zM359 965h1v2h-1zM358 967h1v2h-1zM357 969h1v2h-1zM356 971h1v1h-1zM355 972h1v2h-1zM354 974h1v2h-1zM353 976h1v2h-1zM352 978h1v2h-1zM351 980h1v1h-1zM350 981h1v2h-1zM349 983h1v2h-1zM348 985h1v2h-1zM347 987h1v1h-1zM346 988h1v2h-1zM345 990h1v2h-1zM344 992h1v2h-1zM343 994h1v2h-1zM342 996h1v1h-1zM341 997h1v2h-1zM340 999h1v2h-1zM339 1001h1v2h-1zM338 1003h1v2h-1zM337 1005h1v1h-1zM336 1006h1v2h-1zM335 1008h1v2h-1zM334 1010h1v2h-1zM333 1012h1v1h-1zM332 1013h1v2h-1zM331 1015h1v2h-1zM330 1017h1v2h-1zM329 1019h1v2h-1zM328 1021h1v1h-1zM327 1022h1v2h-1zM326 1024h1v2h-1zM325 1026h1v2h-1zM324 1028h1v2h-1zM323 1030h1v1h-1zM322 1031h1v2h-1zM321 1033h1v2h-1zM320 1035h1v2h-1zM319 1037h1v1h-1zM318 1038h1v2h-1zM317 1040h1v2h-1zM316 1042h1v2h-1zM315 1044h1v2h-1zM314 1046h1v1h-1zM313 1047h1v2h-1zM312 1049h1v2h-1zM311 1051h1v2h-1zM310 1053h1v2h-1zM309 1055h1v1h-1z" fill="#a66e6e" opacity="0.5" shape-rendering="crispEdges"/>
<polygon points="499.4,712.6 484,725.8 493.9,732.3" fill="#cd5c5c" shape-rendering="crispEdges"/>
</svg>
<div class="txt">
<div>No external geometry file is opened.</div>
<div>Detector: amanda-b-10, 10 strings, 302 modules</div>
<div>Data file: /data/disk6/bayes/data/ab_801_199-97-0.flt420.combined.best.noise_xtalk.best.shower.cln.f2k</div>
<div>File contains 2456 events.</div>
<div>Displaying data event 296959 from run 0</div>
<div>Recorded yr/dy: 1997/293</div>
<div>  5163.1811435 seconds past midnight.</div>
<div>Before cuts:   19 hits,   19 OMs</div>
<div>After cuts :   19 hits,   19 OMs</div>
</div></body></html>
